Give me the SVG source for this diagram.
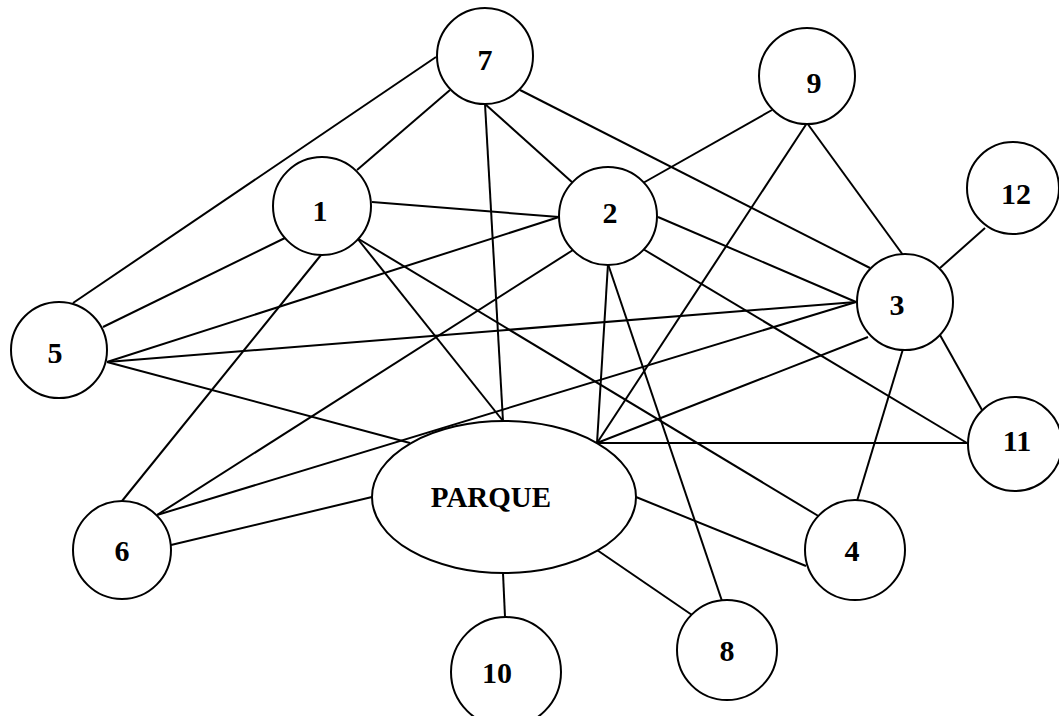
<svg xmlns="http://www.w3.org/2000/svg" width="1059" height="716" viewBox="0 0 1059 716">
<style>
.e line{stroke:#000;stroke-width:2;fill:none}
.n circle,.n ellipse{fill:#fff;stroke:#000;stroke-width:2}
.n text{font-family:"Liberation Serif","Times New Roman",serif;font-weight:bold;font-size:30px;fill:#000;text-anchor:middle}
.n text.big{font-size:29px}
</style>
<rect width="1059" height="716" fill="#fff"/>
<g id="connectors" class="e">
<line x1="436" y1="57" x2="73" y2="303"/>
<line x1="450" y1="90" x2="357" y2="170"/>
<line x1="485" y1="104" x2="503" y2="421"/>
<line x1="485" y1="104" x2="573" y2="183"/>
<line x1="520" y1="90" x2="870" y2="268"/>
<line x1="372" y1="202" x2="559" y2="217"/>
<line x1="287" y1="237" x2="103" y2="327"/>
<line x1="321" y1="255" x2="122" y2="501"/>
<line x1="357" y1="238" x2="503" y2="421"/>
<line x1="357" y1="238" x2="820" y2="517"/>
<line x1="772" y1="110" x2="643" y2="183"/>
<line x1="107" y1="362" x2="559" y2="217"/>
<line x1="573" y1="250" x2="157" y2="515"/>
<line x1="658" y1="217" x2="856" y2="302"/>
<line x1="643" y1="249" x2="967" y2="443"/>
<line x1="608" y1="264" x2="597" y2="443"/>
<line x1="608" y1="264" x2="722" y2="601"/>
<line x1="807" y1="123" x2="597" y2="443"/>
<line x1="807" y1="123" x2="903" y2="255"/>
<line x1="940" y1="268" x2="985" y2="228"/>
<line x1="856" y1="302" x2="107" y2="362"/>
<line x1="856" y1="302" x2="157" y2="515"/>
<line x1="868" y1="337" x2="597" y2="443"/>
<line x1="940" y1="335" x2="982" y2="410"/>
<line x1="903" y1="349" x2="857" y2="501"/>
<line x1="597" y1="443" x2="967" y2="443"/>
<line x1="107" y1="362" x2="410" y2="443"/>
<line x1="171" y1="545" x2="372" y2="497"/>
<line x1="636" y1="497" x2="806" y2="566"/>
<line x1="597" y1="550" x2="692" y2="615"/>
<line x1="503" y1="573" x2="505" y2="617"/>
</g>
<g id="node-parque" class="n"><ellipse cx="504" cy="497" rx="132" ry="76"/><text class="big" x="491" y="507">PARQUE</text></g>
<g id="node-7" class="n"><circle cx="485" cy="56" r="48"/><text x="485" y="70">7</text></g>
<g id="node-1" class="n"><circle cx="322" cy="206" r="49"/><text x="320" y="221">1</text></g>
<g id="node-2" class="n"><circle cx="608" cy="216" r="49"/><text x="610" y="223">2</text></g>
<g id="node-9" class="n"><circle cx="807" cy="76" r="48"/><text x="814" y="93">9</text></g>
<g id="node-12" class="n"><circle cx="1013" cy="188" r="46"/><text x="1016" y="204">12</text></g>
<g id="node-3" class="n"><circle cx="905" cy="302" r="48"/><text x="897" y="315">3</text></g>
<g id="node-5" class="n"><circle cx="59" cy="350" r="48"/><text x="55" y="363">5</text></g>
<g id="node-11" class="n"><circle cx="1015" cy="444" r="47"/><text x="1017" y="451">11</text></g>
<g id="node-6" class="n"><circle cx="122" cy="550" r="49"/><text x="122" y="561">6</text></g>
<g id="node-4" class="n"><circle cx="855" cy="550" r="50"/><text x="852" y="561">4</text></g>
<g id="node-8" class="n"><circle cx="727" cy="650" r="50"/><text x="727" y="661">8</text></g>
<g id="node-10" class="n"><circle cx="506" cy="672" r="55"/><text x="497" y="683">10</text></g>
</svg>
